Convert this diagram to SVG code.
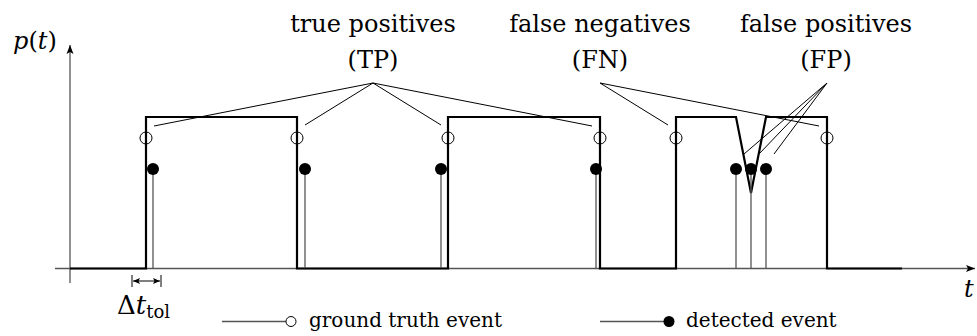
<svg xmlns="http://www.w3.org/2000/svg" width="977" height="336" viewBox="0 0 977 336">
<style>
.lbl{font-family:"DejaVu Serif","Liberation Serif",serif;font-size:24px;fill:#000;text-anchor:middle}
.leg{font-family:"DejaVu Serif","Liberation Serif",serif;font-size:20px;fill:#000}
.math{font-family:"DejaVu Serif","Liberation Serif",serif;font-style:italic;fill:#000}
.up{font-style:normal}
.axis{stroke:#555;stroke-width:1.3;fill:none}
.sig{stroke:#000;stroke-width:2.2;fill:none;stroke-linejoin:miter}
.stem{stroke:#555;stroke-width:1.3}
.gt{fill:none;stroke:#000;stroke-width:1}
.det{fill:#000}
.lead{stroke:#000;stroke-width:1;fill:none}
</style>
<defs>
<marker id="arr" markerWidth="10" markerHeight="8" refX="9" refY="4" orient="auto" markerUnits="userSpaceOnUse">
<path d="M0,0.5 L9,4 L0,7.5 L2,4 Z" fill="#000"/>
</marker>
<marker id="sarr" markerWidth="8" markerHeight="6" refX="7" refY="3" orient="auto-start-reverse" markerUnits="userSpaceOnUse">
<path d="M0,0 L7,3 L0,6 L1.5,3 Z" fill="#000"/>
</marker>
</defs>

<g id="axes">
<line class="axis" x1="55" y1="268.5" x2="975" y2="268.5" marker-end="url(#arr)"/>
<line class="axis" x1="70" y1="283" x2="70" y2="45" marker-end="url(#arr)" stroke="#000"/>
<text class="math" x="13" y="49" font-size="24">p<tspan class="up">(</tspan>t<tspan class="up">)</tspan></text>
<text class="math" x="964" y="297" font-size="24">t</text>
</g>

<g id="signal">
<path class="sig" d="M70,268.5 H146 V117 H297 V268.5 H448 V117 H600 V268.5 H676 V117 H736 L751,193 L766,117 H827 V268.5 H902"/>
</g>

<g id="stems">
<line class="stem" x1="153" y1="169" x2="153" y2="268"/>
<line class="stem" x1="305" y1="169" x2="305" y2="268"/>
<line class="stem" x1="441" y1="169" x2="441" y2="268"/>
<line class="stem" x1="596" y1="169" x2="596" y2="268"/>
<line class="stem" x1="736" y1="169" x2="736" y2="268"/>
<line class="stem" x1="751" y1="169" x2="751" y2="268"/>
<line class="stem" x1="766" y1="169" x2="766" y2="268"/>
</g>

<g id="ground-truth">
<circle class="gt" cx="146" cy="138" r="6"/>
<circle class="gt" cx="297" cy="138" r="6"/>
<circle class="gt" cx="448" cy="138" r="6"/>
<circle class="gt" cx="600" cy="138" r="6"/>
<circle class="gt" cx="676" cy="138" r="6"/>
<circle class="gt" cx="827" cy="138" r="6"/>
</g>

<g id="detected">
<circle class="det" cx="153" cy="169" r="6"/>
<circle class="det" cx="305" cy="169" r="6"/>
<circle class="det" cx="441" cy="169" r="6"/>
<circle class="det" cx="596" cy="169" r="6"/>
<circle class="det" cx="736" cy="169" r="6"/>
<circle class="det" cx="751" cy="169" r="6"/>
<circle class="det" cx="766" cy="169" r="6"/>
</g>

<g id="connectors">
<path class="lead" d="M373,83 L154,126 M373,83 L305,125 M373,83 L441,125 M373,83 L592,126"/>
<path class="lead" d="M600,83 L668,125 M600,83 L819,126"/>
<path class="lead" d="M827,83 L744,154 M827,83 L759,154 M827,83 L774,154"/>
</g>

<g id="tp-label">
<text class="lbl" x="373" y="32">true positives</text>
<text class="lbl" x="373" y="68">(TP)</text>
</g>
<g id="fn-label">
<text class="lbl" x="600" y="32">false negatives</text>
<text class="lbl" x="600" y="68">(FN)</text>
</g>
<g id="fp-label">
<text class="lbl" x="826" y="32">false positives</text>
<text class="lbl" x="826" y="68">(FP)</text>
</g>

<g id="tolerance">
<line x1="132" y1="275" x2="132" y2="287" stroke="#000" stroke-width="1"/>
<line x1="161" y1="275" x2="161" y2="287" stroke="#000" stroke-width="1"/>
<line x1="133" y1="281" x2="160" y2="281" stroke="#000" stroke-width="1" marker-start="url(#sarr)" marker-end="url(#sarr)"/>
<text x="117" y="314" font-family="DejaVu Serif, Liberation Serif, serif" font-size="26">Δ<tspan class="math">t</tspan><tspan font-size="18" dy="4" font-style="normal">tol</tspan></text>
</g>

<g id="legend">
<line class="stem" x1="222" y1="321.5" x2="286" y2="321.5"/>
<circle class="gt" cx="291" cy="321.5" r="5"/>
<text class="leg" x="309" y="327">ground truth event</text>
<line class="stem" x1="600" y1="321.5" x2="664" y2="321.5"/>
<circle class="det" cx="669" cy="321.5" r="5.5"/>
<text class="leg" x="686" y="327">detected event</text>
</g>
</svg>
